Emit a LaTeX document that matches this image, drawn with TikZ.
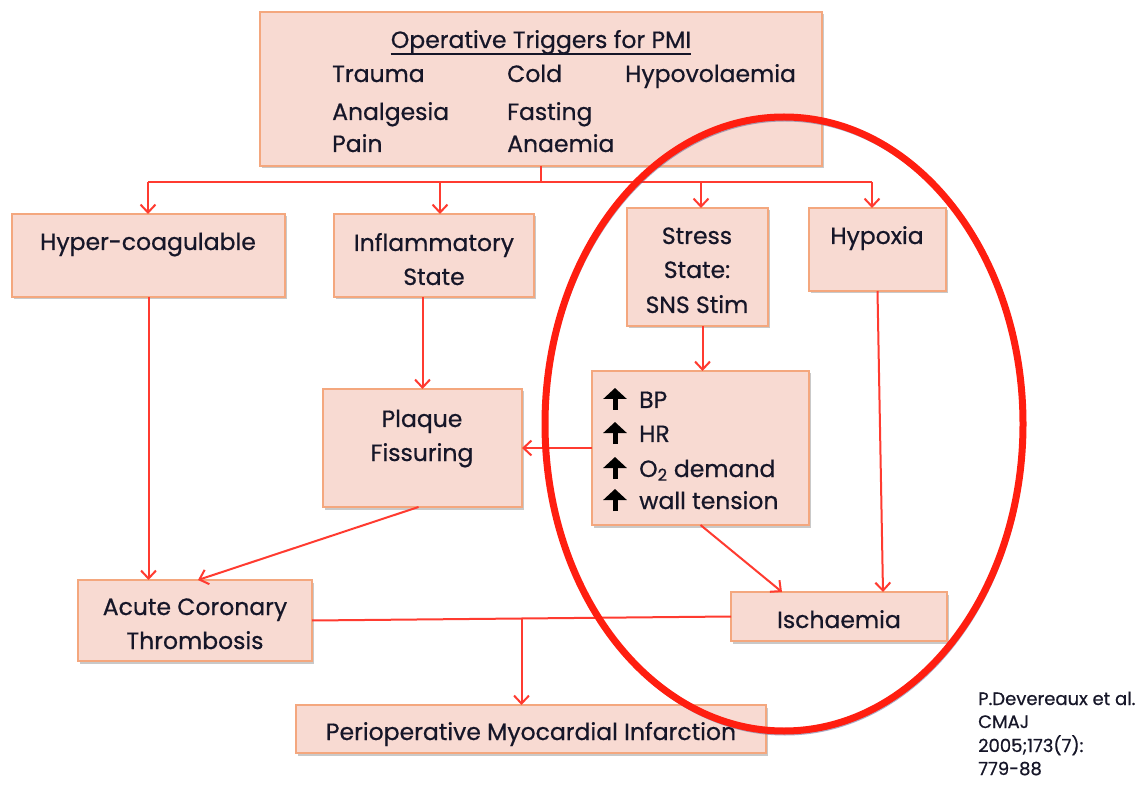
\documentclass[tikz,border=0pt]{standalone}
\usepackage{fontspec}
\setmainfont{Poppins}[FakeBold=0.6]
\usetikzlibrary{shadows,arrows.meta,calc}
\definecolor{boxfill}{HTML}{F8DAD2}
\definecolor{boxline}{HTML}{F4A77E}
\definecolor{connc}{HTML}{FF3B30}
\definecolor{ringc}{HTML}{FF1E10}
\definecolor{txt}{HTML}{161628}
\tikzset{
 box/.style={draw=boxline, fill=boxfill, line width=1.4pt, anchor=north west, inner sep=0pt, outer sep=0pt,
   drop shadow={shadow xshift=2pt, shadow yshift=-2.5pt, opacity=0.35, fill=black!60}},
 lab/.style={font=\fontsize{23.5}{27}\selectfont, text=txt, inner sep=0pt, anchor=base},
 labw/.style={lab, anchor=base west},
 cite/.style={font=\fontsize{18}{21}\selectfont, text=txt, inner sep=0pt, anchor=base west},
 connline/.style={draw=connc, line width=2pt},
 arr/.style={connline, -{Straight Barb[length=8pt,width=15pt,line width=2pt]}},
 uparr/.style={draw=black, line width=5pt, -{Triangle[length=11pt,width=23pt]}},
 pt/.style={inner sep=0pt, outer sep=0pt}
}
\begin{document}
\begin{tikzpicture}[x=1pt,y=-1pt]
\useasboundingbox[fill=white] (0,0) rectangle (1146,791);
% boxes
\node[box, minimum width=562pt, minimum height=154pt] (top) at (260,12) {};
\node[box, minimum width=273pt, minimum height=83pt] (hyper) at (12,214) {};
\node[box, minimum width=200pt, minimum height=83pt] (infl) at (334,214) {};
\node[box, minimum width=141pt, minimum height=118pt] (stress) at (627,208) {};
\node[box, minimum width=137pt, minimum height=83pt] (hypox) at (809,208) {};
\node[box, minimum width=199pt, minimum height=118pt] (plaque) at (323,389) {};
\node[box, minimum width=217pt, minimum height=154pt] (up) at (592,371) {};
\node[box, minimum width=234pt, minimum height=81pt] (acute) at (78,580) {};
\node[box, minimum width=216pt, minimum height=49pt] (isch) at (731,592) {};
\node[box, minimum width=470pt, minimum height=48pt] (pmi) at (296,705) {};
% labels
\node[lab] (title) at (541,48) {Operative Triggers for PMI};
\draw[txt, line width=1.3pt] (title.base west) ++(0,6) -- ($(title.base east)+(0,6)$);
\node[labw] (t1) at (332,82) {Trauma};
\node[labw] (t2) at (507,82) {Cold};
\node[labw] (t3) at (625,82) {Hypovolaemia};
\node[labw] (t4) at (332,120) {Analgesia};
\node[labw] (t5) at (507,120) {Fasting};
\node[labw] (t6) at (332,152) {Pain};
\node[labw] (t7) at (507,152) {Anaemia};
\node[lab] (l1) at (148,250) {Hyper-coagulable};
\node[lab] (l2a) at (434,251) {Inflammatory};
\node[lab] (l2b) at (434,285) {State};
\node[lab] (l3a) at (697,244) {Stress};
\node[lab] (l3b) at (697,278) {State:};
\node[lab] (l3c) at (697,313) {SNS Stim};
\node[lab] (l4) at (877,244) {Hypoxia};
\node[lab] (l5a) at (422,427) {Plaque};
\node[lab] (l5b) at (422,461) {Fissuring};
\coordinate (u1) at (615,410);
\coordinate (u2) at (615,444);
\coordinate (u3) at (615,479);
\coordinate (u4) at (615,511);
\foreach \u in {u1,u2,u3,u4} \draw[uparr] (\u) -- ++(0,-22);
\node[labw] (v1) at (639,408) {BP};
\node[labw] (v2) at (639,442) {HR};
\node[labw] (v3) at (639,477) {O\textsubscript{2} demand};
\node[labw] (v4) at (639,509) {wall tension};
\node[lab] (l6a) at (195,615) {Acute Coronary};
\node[lab] (l6b) at (195,649) {Thrombosis};
\node[lab] (l7) at (839,628) {Ischaemia};
\node[lab] (l8) at (531,740) {Perioperative Myocardial Infarction};
\node[cite] (c1) at (978,705) {P.Devereaux et al.};
\node[cite] (c2) at (978,728) {CMAJ};
\node[cite] (c3) at (978,752) {2005;173(7):};
\node[cite] (c4) at (978,775) {779-88};
% connectors
\coordinate (busL) at (148,182);
\coordinate (busR) at (872,182);
\draw[connline] (top.south) -- (top.south |- busL);
\draw[connline] (busL) -- (busR);
\draw[arr] (busL) -- (busL |- hyper.north);
\coordinate (b2) at (440,182);
\draw[arr] (b2) -- (b2 |- infl.north);
\coordinate (b3) at (701,182);
\draw[arr] (b3) -- (b3 |- stress.north);
\draw[arr] (busR) -- (busR |- hypox.north);
\draw[arr] (hyper.south) -- (hyper.south |- acute.north);
\draw[arr] (plaque.north |- infl.south) -- (plaque.north);
\draw[arr] ([xshift=5pt]stress.south) -- ([xshift=5pt]stress.south |- up.north);
\draw[arr] (up.west) -- (plaque.east |- up.west);
\draw[arr] (hypox.south) -- ([xshift=44pt]isch.north);
\draw[arr] ([xshift=-4pt]plaque.south) -- ([xshift=3pt]acute.north);
\draw[arr] (up.south) -- ([xshift=-57pt]isch.north);
\draw[connline] (acute.east) -- (isch.west);
\coordinate (mid) at ($(acute.east)!0.5!(isch.west)$);
\draw[arr] (mid) -- (mid |- pmi.north);
% ring
\draw[line width=3pt, color=black!35!blue!30!gray, opacity=0.5] (785,427) ellipse [x radius=239, y radius=307];
\draw[line width=7pt, color=ringc] (784,424) ellipse [x radius=239, y radius=307];
\end{tikzpicture}
\end{document}
